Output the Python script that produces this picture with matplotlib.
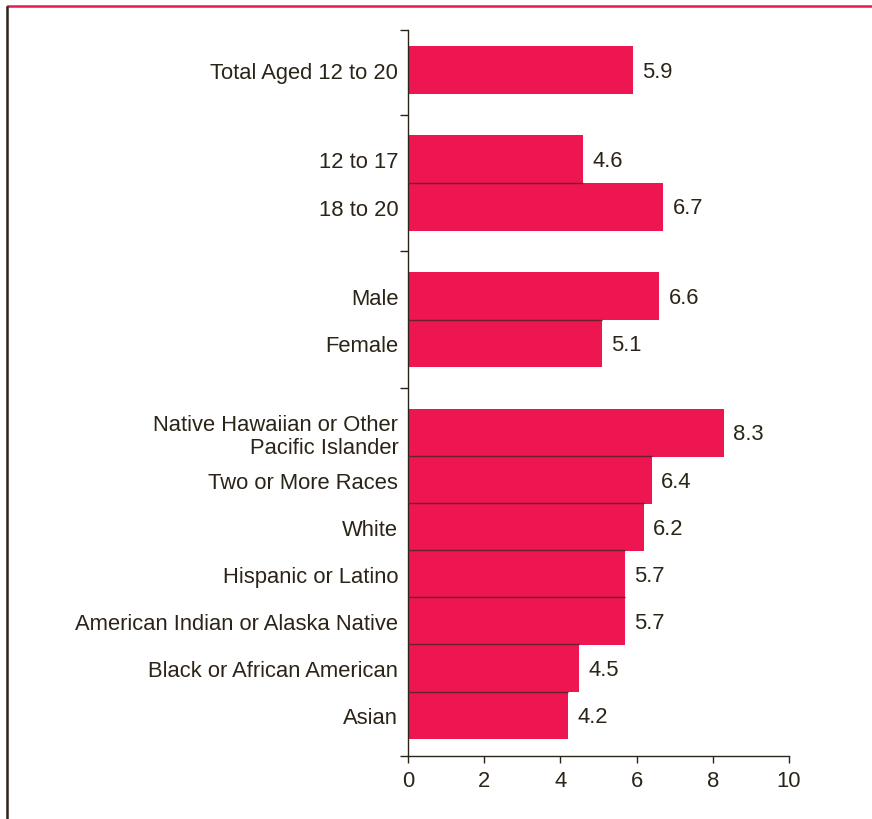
import matplotlib.pyplot as plt
from matplotlib.lines import Line2D

# data, grouped as in the chart (top to bottom)
group_labels = [
    ["Total Aged 12 to 20"],
    ["12 to 17", "18 to 20"],
    ["Male", "Female"],
    ["Native Hawaiian or Other\nPacific Islander", "Two or More Races", "White",
     "Hispanic or Latino", "American Indian or Alaska Native",
     "Black or African American", "Asian"],
]
group_values = [
    [5.9],
    [4.6, 6.7],
    [6.6, 5.1],
    [8.3, 6.4, 6.2, 5.7, 5.7, 4.5, 4.2],
]
x_ticks = [0, 2, 4, 6, 8, 10]

RED = "#ED1651"
TEXT = "#2B2418"
EDGE = "#6B2030"
GAP = 0.9  # extra space between groups, in bar units
FS = 15.8

plt.rcParams["font.family"] = ["Liberation Sans", "DejaVu Sans"]

# positions of bars
labels, values, pos = [], [], []
y = 0.0
for gi, (labs, vals) in enumerate(zip(group_labels, group_values)):
    if gi > 0:
        y += GAP
    for lab, val in zip(labs, vals):
        labels.append(lab)
        values.append(val)
        pos.append(y)
        y += 1
# separators sit midway between groups
seps = []
idx = 0
for labs in group_labels[:-1]:
    idx += len(labs)
    seps.append((pos[idx - 1] + pos[idx]) / 2)

y_top, y_bottom = -0.85, pos[-1] + 0.87

fig = plt.figure(figsize=(8.72, 8.20), dpi=100)
ax = fig.add_axes([0.4679, 0.0768, 0.4369, 0.8854])

ax.barh(pos, values, height=1.02, color=RED, linewidth=0)

# thin dark line where two bars of the same group touch
idx = 0
for labs, vals in zip(group_labels, group_values):
    for k in range(1, len(vals)):
        i = idx + k
        ax.plot([0, min(values[i - 1], values[i])], [pos[i] - 0.5] * 2,
                color=EDGE, lw=1.0, solid_capstyle="butt", zorder=3)
    idx += len(labs)

for p, v in zip(pos, values):
    ax.text(v + 0.24, p + 0.03, f"{v:.1f}", va="center", ha="left",
            fontsize=FS, color=TEXT)

ax.set_ylim(y_bottom, y_top)
ax.set_xlim(0, 10)
ax.set_xticks(x_ticks)
ax.set_xticklabels([str(t) for t in x_ticks])

ax.set_yticks(pos)
ax.set_yticklabels(labels, ha="right", multialignment="right", linespacing=1.15)
ax.tick_params(axis="y", length=0, pad=7, labelsize=FS, labelcolor=TEXT)
ax.set_yticks([y_top] + seps + [y_bottom], minor=True)
ax.tick_params(axis="y", which="minor", length=6, width=1.0, color=TEXT)
ax.tick_params(axis="x", length=5, width=1.0, color=TEXT, labelsize=FS,
               labelcolor=TEXT, pad=5)

for side in ("top", "right"):
    ax.spines[side].set_visible(False)
for side in ("left", "bottom"):
    ax.spines[side].set_color(TEXT)
    ax.spines[side].set_linewidth(1.0)

# page frame lines
fig.add_artist(Line2D([8 / 872, 1], [1 - 7 / 820] * 2, color=RED, lw=1.8,
                      transform=fig.transFigure))
fig.add_artist(Line2D([7 / 872] * 2, [0, 1 - 8 / 820], color=TEXT, lw=1.8,
                      transform=fig.transFigure))

fig.savefig("out.png", dpi=100)
